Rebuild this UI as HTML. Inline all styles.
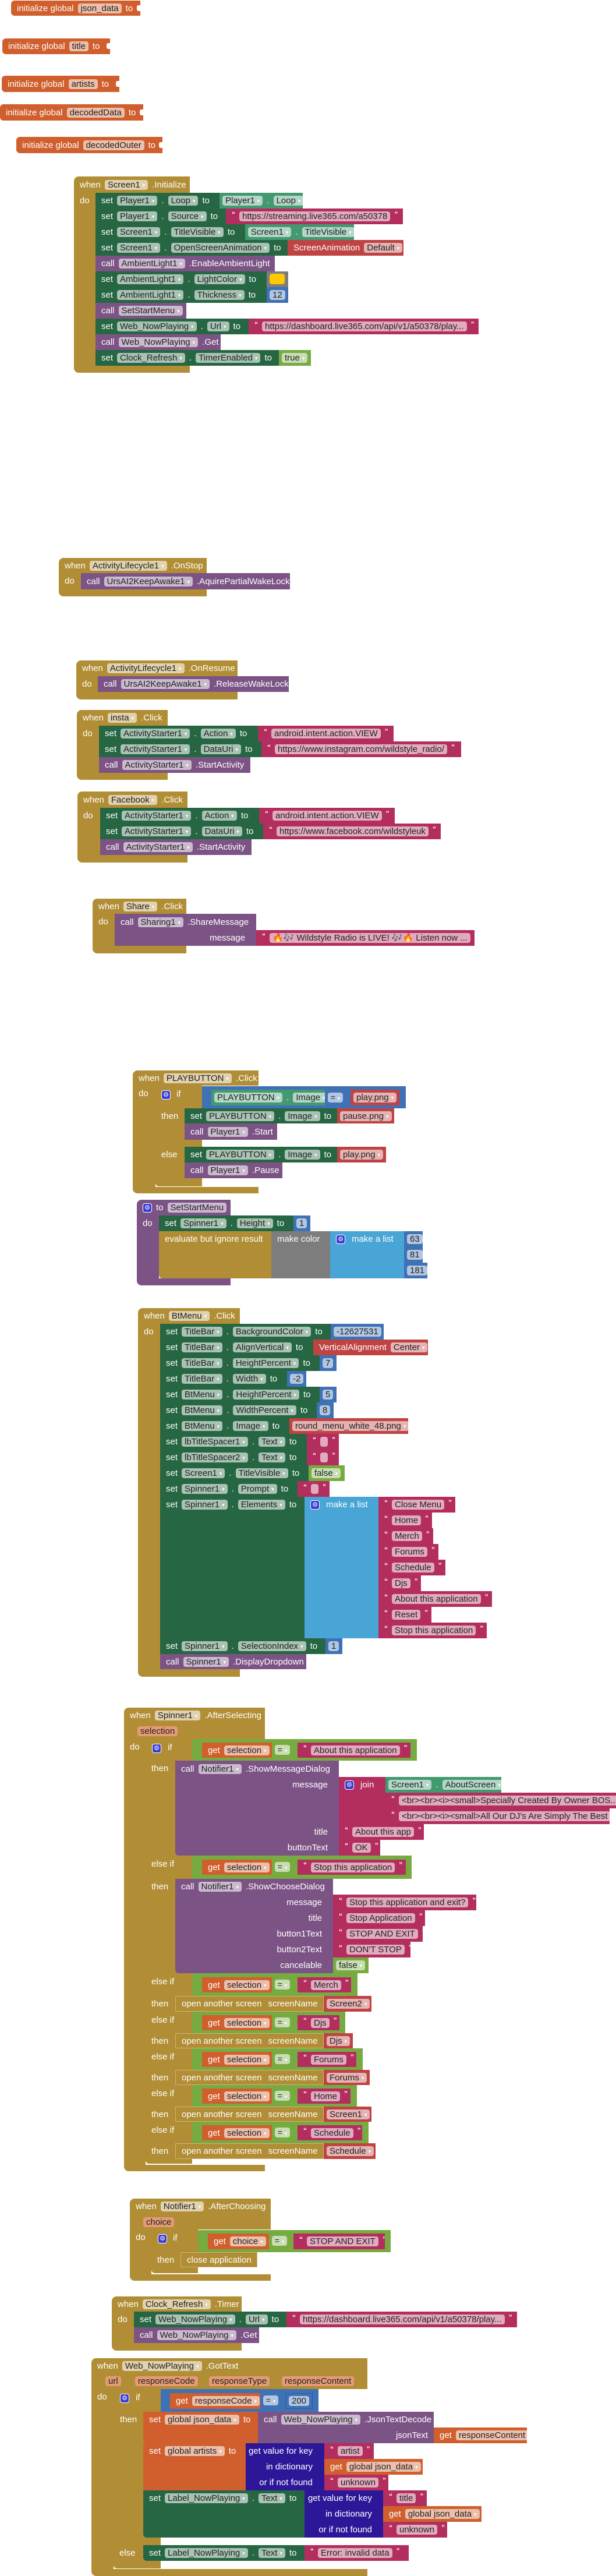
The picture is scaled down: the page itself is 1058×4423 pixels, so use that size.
<!DOCTYPE html>
<html><head><meta charset="utf-8"><style>
*{margin:0;padding:0;box-sizing:border-box}
body{width:1058px;height:4423px;position:relative;background:#fff;font-family:"Liberation Sans",Arial,sans-serif;font-size:15px;overflow:hidden}
.b{position:absolute;color:#fff;white-space:nowrap;overflow:hidden}
.r{display:flex;align-items:center;gap:7px;padding-left:10px;height:27px}
.r5{padding-left:5px}
i{font-style:normal;display:inline-block;height:17px;line-height:17px;padding:0 5px;border-radius:4px;background:rgba(255,255,255,.6);color:#222}
i.d::after{content:"\25BE";font-size:9px;color:#fff;margin-left:4px;vertical-align:1px}
.q{font-size:12px;font-weight:bold;position:relative;top:-4px}
.t{position:absolute;color:#fff;white-space:nowrap;line-height:27px}
.g{display:inline-block;width:16px;height:16px;line-height:14px;text-align:center;border-radius:4px;background:#3C3CD4;color:#fff;font-size:11px;border:1px solid #fff;font-family:"DejaVu Sans",sans-serif}
.rt{text-align:right;padding-right:19px;height:27px;line-height:27px}
.hd{border-radius:8px 0 0 0}
.bt{border-radius:0 0 0 8px}
.go{background:#B18E35}
.sg{background:#266643}
.gg{background:#439970}
.pu{background:#7C5385}
.mg{background:#B32D5E}
.rd{background:#BF4343}
.bl{background:#3F71B5}
.lb{background:#49A5D5}
.or{background:#D05F2D}
.in{background:#2D1799}
.lg{background:#77AB41}
.gy{background:#7D7D7D}
i.pp{background:#E49A74}
.eq{position:absolute;height:17px;line-height:17px;border-radius:4px;color:#222;font-size:14px;text-align:center}
.ol{border:1px solid rgba(255,255,255,.35)}
.n{position:absolute;background:#fff;width:6px;height:10px;border-radius:3px 0 0 3px}
</style></head><body>

<!-- globals -->
<div class="b or" style="left:19px;top:1px;width:222px;height:26px;border-radius:6px 0 0 6px"><div class="r" style="height:26px"><span>initialize global</span><i>json_data</i><span>to</span></div></div>
<div class="n" style="left:235px;top:9px"></div>
<div class="b or" style="left:4px;top:66px;width:185px;height:27px;border-radius:6px 0 0 6px"><div class="r"><span>initialize global</span><i>title</i><span>to</span></div></div>
<div class="n" style="left:183px;top:74px"></div>
<div class="b or" style="left:3px;top:130px;width:202px;height:28px;border-radius:6px 0 0 6px"><div class="r" style="height:28px"><span>initialize global</span><i>artists</i><span>to</span></div></div>
<div class="n" style="left:199px;top:139px"></div>
<div class="b or" style="left:0px;top:179px;width:246px;height:28px;border-radius:6px 0 0 6px"><div class="r" style="height:28px"><span>initialize global</span><i>decodedData</i><span>to</span></div></div>
<div class="n" style="left:240px;top:188px"></div>
<div class="b or" style="left:28px;top:235px;width:251px;height:28px;border-radius:6px 0 0 6px"><div class="r" style="height:28px"><span>initialize global</span><i>decodedOuter</i><span>to</span></div></div>
<div class="n" style="left:273px;top:244px"></div>

<!-- Screen1.Initialize -->
<div class="b go hd" style="left:127px;top:303px;width:199px;height:28px"><div class="r" style="height:28px"><span>when</span><i class="d">Screen1</i><span>.Initialize</span></div></div>
<div class="b go" style="left:127px;top:331px;width:37px;height:297px"><div class="r">do</div></div>
<div class="b go bt" style="left:127px;top:628px;width:199px;height:12px"></div>
<div class="b sg" style="left:164px;top:331px;width:213px;height:27px"><div class="r"><span>set</span><i class="d">Player1</i><span>.</span><i class="d">Loop</i><span>to</span></div></div>
<div class="b gg" style="left:377px;top:331px;width:143px;height:27px"><div class="r r5"><i class="d">Player1</i><span>.</span><i class="d">Loop</i></div></div>
<div class="b sg" style="left:164px;top:358px;width:224px;height:27px"><div class="r"><span>set</span><i class="d">Player1</i><span>.</span><i class="d">Source</i><span>to</span></div></div>
<div class="b mg" style="left:388px;top:358px;width:304px;height:27px"><div class="r"><span class="q">“</span><i>https://streaming.live365.com/a50378</i><span class="q">”</span></div></div>
<div class="b sg" style="left:164px;top:385px;width:257px;height:27px"><div class="r"><span>set</span><i class="d">Screen1</i><span>.</span><i class="d">TitleVisible</i><span>to</span></div></div>
<div class="b gg" style="left:421px;top:385px;width:187px;height:27px"><div class="r r5"><i class="d">Screen1</i><span>.</span><i class="d">TitleVisible</i></div></div>
<div class="b sg" style="left:164px;top:412px;width:330px;height:27px"><div class="r"><span>set</span><i class="d">Screen1</i><span>.</span><i class="d">OpenScreenAnimation</i><span>to</span></div></div>
<div class="b rd" style="left:494px;top:412px;width:199px;height:27px"><div class="r"><span>ScreenAnimation</span><i class="d">Default</i></div></div>
<div class="b pu" style="left:164px;top:439px;width:308px;height:27px"><div class="r"><span>call</span><i class="d">AmbientLight1</i><span>.EnableAmbientLight</span></div></div>
<div class="b sg" style="left:164px;top:466px;width:294px;height:27px"><div class="r"><span>set</span><i class="d">AmbientLight1</i><span>.</span><i class="d">LightColor</i><span>to</span></div></div>
<div class="b gy" style="left:458px;top:466px;width:37px;height:27px"></div>
<div class="b" style="left:463px;top:470px;width:26px;height:18px;background:#FFC800;border-radius:4px"></div>
<div class="b sg" style="left:164px;top:493px;width:294px;height:27px"><div class="r"><span>set</span><i class="d">AmbientLight1</i><span>.</span><i class="d">Thickness</i><span>to</span></div></div>
<div class="b bl" style="left:458px;top:493px;width:37px;height:27px"><div class="r r5"><i>12</i></div></div>
<div class="b pu" style="left:164px;top:520px;width:156px;height:27px"><div class="r"><span>call</span><i class="d">SetStartMenu</i></div></div>
<div class="b sg" style="left:164px;top:547px;width:263px;height:27px"><div class="r"><span>set</span><i class="d">Web_NowPlaying</i><span>.</span><i class="d">Url</i><span>to</span></div></div>
<div class="b mg" style="left:427px;top:547px;width:395px;height:27px"><div class="r"><span class="q">“</span><i>https://dashboard.live365.com/api/v1/a50378/play...</i><span class="q">”</span></div></div>
<div class="b pu" style="left:164px;top:574px;width:215px;height:27px"><div class="r"><span>call</span><i class="d">Web_NowPlaying</i><span>.Get</span></div></div>
<div class="b sg" style="left:164px;top:601px;width:315px;height:27px"><div class="r"><span>set</span><i class="d">Clock_Refresh</i><span>.</span><i class="d">TimerEnabled</i><span>to</span></div></div>
<div class="b lg" style="left:479px;top:601px;width:55px;height:27px"><div class="r r5"><i class="d">true</i></div></div>

<!-- OnStop -->
<div class="b go hd" style="left:101px;top:958px;width:254px;height:26px"><div class="r" style="height:26px"><span>when</span><i class="d">ActivityLifecycle1</i><span>.OnStop</span></div></div>
<div class="b go" style="left:101px;top:984px;width:38px;height:28px"><div class="r">do</div></div>
<div class="b go bt" style="left:101px;top:1012px;width:254px;height:12px"></div>
<div class="b pu" style="left:139px;top:984px;width:359px;height:28px"><div class="r" style="height:28px"><span>call</span><i class="d">UrsAI2KeepAwake1</i><span>.AquirePartialWakeLock</span></div></div>

<!-- OnResume -->
<div class="b go hd" style="left:131px;top:1134px;width:277px;height:27px"><div class="r"><span>when</span><i class="d">ActivityLifecycle1</i><span>.OnResume</span></div></div>
<div class="b go" style="left:131px;top:1161px;width:37px;height:27px"><div class="r">do</div></div>
<div class="b go bt" style="left:131px;top:1188px;width:277px;height:13px"></div>
<div class="b pu" style="left:168px;top:1161px;width:328px;height:27px"><div class="r"><span>call</span><i class="d">UrsAI2KeepAwake1</i><span>.ReleaseWakeLock</span></div></div>

<!-- insta -->
<div class="b go hd" style="left:132px;top:1219px;width:156px;height:27px"><div class="r"><span>when</span><i class="d">insta</i><span>.Click</span></div></div>
<div class="b go" style="left:132px;top:1246px;width:38px;height:81px"><div class="r">do</div></div>
<div class="b go bt" style="left:132px;top:1327px;width:156px;height:12px"></div>
<div class="b sg" style="left:170px;top:1246px;width:273px;height:27px"><div class="r"><span>set</span><i class="d">ActivityStarter1</i><span>.</span><i class="d">Action</i><span>to</span></div></div>
<div class="b mg" style="left:443px;top:1246px;width:233px;height:27px"><div class="r"><span class="q">“</span><i>android.intent.action.VIEW</i><span class="q">”</span></div></div>
<div class="b sg" style="left:170px;top:1273px;width:279px;height:27px"><div class="r"><span>set</span><i class="d">ActivityStarter1</i><span>.</span><i class="d">DataUri</i><span>to</span></div></div>
<div class="b mg" style="left:449px;top:1273px;width:343px;height:27px"><div class="r"><span class="q">“</span><i>https://www.instagram.com/wildstyle_radio/</i><span class="q">”</span></div></div>
<div class="b pu" style="left:170px;top:1300px;width:260px;height:27px"><div class="r"><span>call</span><i class="d">ActivityStarter1</i><span>.StartActivity</span></div></div>

<!-- Facebook -->
<div class="b go hd" style="left:133px;top:1359px;width:189px;height:28px"><div class="r" style="height:28px"><span>when</span><i class="d">Facebook</i><span>.Click</span></div></div>
<div class="b go" style="left:133px;top:1387px;width:39px;height:81px"><div class="r">do</div></div>
<div class="b go bt" style="left:133px;top:1468px;width:189px;height:13px"></div>
<div class="b sg" style="left:172px;top:1387px;width:273px;height:27px"><div class="r"><span>set</span><i class="d">ActivityStarter1</i><span>.</span><i class="d">Action</i><span>to</span></div></div>
<div class="b mg" style="left:445px;top:1387px;width:233px;height:27px"><div class="r"><span class="q">“</span><i>android.intent.action.VIEW</i><span class="q">”</span></div></div>
<div class="b sg" style="left:172px;top:1414px;width:280px;height:27px"><div class="r"><span>set</span><i class="d">ActivityStarter1</i><span>.</span><i class="d">DataUri</i><span>to</span></div></div>
<div class="b mg" style="left:452px;top:1414px;width:305px;height:27px"><div class="r"><span class="q">“</span><i>https://www.facebook.com/wildstyleuk</i><span class="q">”</span></div></div>
<div class="b pu" style="left:172px;top:1441px;width:260px;height:27px"><div class="r"><span>call</span><i class="d">ActivityStarter1</i><span>.StartActivity</span></div></div>

<!-- Share -->
<div class="b go hd" style="left:159px;top:1543px;width:161px;height:26px"><div class="r" style="height:26px"><span>when</span><i class="d">Share</i><span>.Click</span></div></div>
<div class="b go" style="left:159px;top:1569px;width:38px;height:55px"><div class="r">do</div></div>
<div class="b go bt" style="left:159px;top:1624px;width:161px;height:13px"></div>
<div class="b pu" style="left:197px;top:1569px;width:243px;height:55px"><div class="r" style="height:28px"><span>call</span><i class="d">Sharing1</i><span>.ShareMessage</span></div><div class="rt">message</div></div>
<div class="b mg" style="left:440px;top:1597px;width:375px;height:27px"><div class="r"><span class="q">“</span><i>🔥🎶 Wildstyle Radio is LIVE! 🎶🔥 Listen now ...</i><span class="q">”</span></div></div>

<!-- PLAYBUTTON.Click -->
<div class="b go hd" style="left:228px;top:1838px;width:216px;height:26px"><div class="r" style="height:26px"><span>when</span><i class="d">PLAYBUTTON</i><span>.Click</span></div></div>
<div class="b go" style="left:228px;top:1864px;width:39px;height:174px"><div class="r">do</div></div>
<div class="b go bt" style="left:228px;top:2038px;width:216px;height:11px"></div>
<div class="b go" style="left:267px;top:1864px;width:80px;height:173px;border-radius:0 0 0 6px"></div>
<div class="t" style="left:277px;top:1864px;line-height:30px"><span class="g">⚙</span></div>
<div class="t" style="left:303px;top:1864px;line-height:30px">if</div>
<div class="t" style="left:277px;top:1903px">then</div>
<div class="t" style="left:277px;top:1969px">else</div>
<div class="b bl" style="left:347px;top:1865px;width:350px;height:38px"></div>
<div class="b gg" style="left:363px;top:1871px;width:195px;height:27px"><div class="r r5"><i class="d">PLAYBUTTON</i><span>.</span><i class="d">Image</i></div></div>
<div class="eq" style="left:563px;top:1876px;width:26px;background:#B2C6E1">= <span style="color:#fff;font-size:9px">▾</span></div>
<div class="b rd" style="left:602px;top:1871px;width:84px;height:27px"><div class="r r5"><i class="d">play.png</i></div></div>
<div class="b sg" style="left:317px;top:1903px;width:262px;height:26px"><div class="r" style="height:26px"><span>set</span><i class="d">PLAYBUTTON</i><span>.</span><i class="d">Image</i><span>to</span></div></div>
<div class="b rd" style="left:579px;top:1903px;width:98px;height:26px"><div class="r r5" style="height:26px"><i class="d">pause.png</i></div></div>
<div class="b pu" style="left:317px;top:1929px;width:159px;height:28px"><div class="r" style="height:28px"><span>call</span><i class="d">Player1</i><span>.Start</span></div></div>
<div class="b sg" style="left:317px;top:1969px;width:262px;height:27px"><div class="r"><span>set</span><i class="d">PLAYBUTTON</i><span>.</span><i class="d">Image</i><span>to</span></div></div>
<div class="b rd" style="left:579px;top:1969px;width:84px;height:27px"><div class="r r5"><i class="d">play.png</i></div></div>
<div class="b pu" style="left:317px;top:1996px;width:168px;height:27px"><div class="r"><span>call</span><i class="d">Player1</i><span>.Pause</span></div></div>

<!-- SetStartMenu -->
<div class="b pu hd" style="left:235px;top:2060px;width:161px;height:27px"><div class="r"><span class="g">⚙</span><span>to</span><i style="background:#CDB8D3">SetStartMenu</i></div></div>
<div class="b pu" style="left:235px;top:2087px;width:38px;height:108px"><div class="r">do</div></div>
<div class="b pu bt" style="left:235px;top:2195px;width:161px;height:12px"></div>
<div class="b sg" style="left:273px;top:2087px;width:231px;height:27px"><div class="r"><span>set</span><i class="d">Spinner1</i><span>.</span><i class="d">Height</i><span>to</span></div></div>
<div class="b bl" style="left:504px;top:2087px;width:29px;height:27px"><div class="r r5"><i>1</i></div></div>
<div class="b go" style="left:273px;top:2114px;width:193px;height:81px;border-radius:0 0 0 6px"><div class="r">evaluate but ignore result</div></div>
<div class="b gy" style="left:466px;top:2114px;width:101px;height:81px"><div class="r">make color</div></div>
<div class="b lb" style="left:567px;top:2114px;width:127px;height:81px"><div class="r"><span class="g">⚙</span><span style="margin-left:4px">make a list</span></div></div>
<div class="b bl" style="left:694px;top:2114px;width:32px;height:27px"><div class="r r5"><i>63</i></div></div>
<div class="b bl" style="left:694px;top:2141px;width:32px;height:27px"><div class="r r5"><i>81</i></div></div>
<div class="b bl" style="left:694px;top:2168px;width:40px;height:27px"><div class="r r5"><i>181</i></div></div>

<!-- BtMenu.Click -->
<div class="b go hd" style="left:237px;top:2246px;width:175px;height:27px"><div class="r"><span>when</span><i class="d">BtMenu</i><span>.Click</span></div></div>
<div class="b go" style="left:237px;top:2273px;width:38px;height:593px"><div class="r">do</div></div>
<div class="b go bt" style="left:237px;top:2866px;width:175px;height:13px"></div>
<div class="b sg" style="left:275px;top:2273px;width:293px;height:27px"><div class="r"><span>set</span><i class="d">TitleBar</i><span>.</span><i class="d">BackgroundColor</i><span>to</span></div></div>
<div class="b bl" style="left:568px;top:2273px;width:91px;height:27px"><div class="r r5"><i>-12627531</i></div></div>
<div class="b sg" style="left:275px;top:2300px;width:263px;height:27px"><div class="r"><span>set</span><i class="d">TitleBar</i><span>.</span><i class="d">AlignVertical</i><span>to</span></div></div>
<div class="b rd" style="left:538px;top:2300px;width:197px;height:27px"><div class="r"><span>VerticalAlignment</span><i class="d">Center</i></div></div>
<div class="b sg" style="left:275px;top:2327px;width:274px;height:27px"><div class="r"><span>set</span><i class="d">TitleBar</i><span>.</span><i class="d">HeightPercent</i><span>to</span></div></div>
<div class="b bl" style="left:549px;top:2327px;width:29px;height:27px"><div class="r r5"><i>7</i></div></div>
<div class="b sg" style="left:275px;top:2354px;width:218px;height:27px"><div class="r"><span>set</span><i class="d">TitleBar</i><span>.</span><i class="d">Width</i><span>to</span></div></div>
<div class="b bl" style="left:493px;top:2354px;width:33px;height:27px"><div class="r r5"><i>-2</i></div></div>
<div class="b sg" style="left:275px;top:2381px;width:274px;height:27px"><div class="r"><span>set</span><i class="d">BtMenu</i><span>.</span><i class="d">HeightPercent</i><span>to</span></div></div>
<div class="b bl" style="left:549px;top:2381px;width:29px;height:27px"><div class="r r5"><i>5</i></div></div>
<div class="b sg" style="left:275px;top:2408px;width:269px;height:27px"><div class="r"><span>set</span><i class="d">BtMenu</i><span>.</span><i class="d">WidthPercent</i><span>to</span></div></div>
<div class="b bl" style="left:544px;top:2408px;width:29px;height:27px"><div class="r r5"><i>8</i></div></div>
<div class="b sg" style="left:275px;top:2435px;width:222px;height:27px"><div class="r"><span>set</span><i class="d">BtMenu</i><span>.</span><i class="d">Image</i><span>to</span></div></div>
<div class="b rd" style="left:497px;top:2435px;width:204px;height:27px"><div class="r r5"><i class="d">round_menu_white_48.png</i></div></div>
<div class="b sg" style="left:275px;top:2462px;width:252px;height:27px"><div class="r"><span>set</span><i class="d">lbTitleSpacer1</i><span>.</span><i class="d">Text</i><span>to</span></div></div>
<div class="b mg" style="left:527px;top:2462px;width:55px;height:27px"><div class="r"><span class="q">“</span><i style="width:13px;padding:0"></i><span class="q">”</span></div></div>
<div class="b sg" style="left:275px;top:2489px;width:252px;height:27px"><div class="r"><span>set</span><i class="d">lbTitleSpacer2</i><span>.</span><i class="d">Text</i><span>to</span></div></div>
<div class="b mg" style="left:527px;top:2489px;width:55px;height:27px"><div class="r"><span class="q">“</span><i style="width:13px;padding:0"></i><span class="q">”</span></div></div>
<div class="b sg" style="left:275px;top:2516px;width:255px;height:27px"><div class="r"><span>set</span><i class="d">Screen1</i><span>.</span><i class="d">TitleVisible</i><span>to</span></div></div>
<div class="b lg" style="left:530px;top:2516px;width:62px;height:27px"><div class="r r5"><i class="d">false</i></div></div>
<div class="b sg" style="left:275px;top:2543px;width:236px;height:27px"><div class="r"><span>set</span><i class="d">Spinner1</i><span>.</span><i class="d">Prompt</i><span>to</span></div></div>
<div class="b mg" style="left:511px;top:2543px;width:55px;height:27px"><div class="r"><span class="q">“</span><i style="width:13px;padding:0"></i><span class="q">”</span></div></div>
<div class="b sg" style="left:275px;top:2570px;width:248px;height:243px"><div class="r"><span>set</span><i class="d">Spinner1</i><span>.</span><i class="d">Elements</i><span>to</span></div></div>
<div class="b lb" style="left:523px;top:2570px;width:127px;height:243px"><div class="r"><span class="g">⚙</span><span style="margin-left:4px">make a list</span></div></div>
<div class="b mg" style="left:650px;top:2570px;width:132px;height:27px"><div class="r"><span class="q">“</span><i>Close Menu</i><span class="q">”</span></div></div>
<div class="b mg" style="left:650px;top:2597px;width:92px;height:27px"><div class="r"><span class="q">“</span><i>Home</i><span class="q">”</span></div></div>
<div class="b mg" style="left:650px;top:2624px;width:94px;height:27px"><div class="r"><span class="q">“</span><i>Merch</i><span class="q">”</span></div></div>
<div class="b mg" style="left:650px;top:2651px;width:103px;height:27px"><div class="r"><span class="q">“</span><i>Forums</i><span class="q">”</span></div></div>
<div class="b mg" style="left:650px;top:2678px;width:115px;height:27px"><div class="r"><span class="q">“</span><i>Schedule</i><span class="q">”</span></div></div>
<div class="b mg" style="left:650px;top:2705px;width:73px;height:27px"><div class="r"><span class="q">“</span><i>Djs</i><span class="q">”</span></div></div>
<div class="b mg" style="left:650px;top:2732px;width:195px;height:27px"><div class="r"><span class="q">“</span><i>About this application</i><span class="q">”</span></div></div>
<div class="b mg" style="left:650px;top:2759px;width:91px;height:27px"><div class="r"><span class="q">“</span><i>Reset</i><span class="q">”</span></div></div>
<div class="b mg" style="left:650px;top:2786px;width:186px;height:27px"><div class="r"><span class="q">“</span><i>Stop this application</i><span class="q">”</span></div></div>
<div class="b sg" style="left:275px;top:2813px;width:284px;height:27px"><div class="r"><span>set</span><i class="d">Spinner1</i><span>.</span><i class="d">SelectionIndex</i><span>to</span></div></div>
<div class="b bl" style="left:559px;top:2813px;width:29px;height:27px"><div class="r r5"><i>1</i></div></div>
<div class="b pu" style="left:275px;top:2840px;width:251px;height:26px"><div class="r" style="height:26px"><span>call</span><i class="d">Spinner1</i><span>.DisplayDropdown</span></div></div>

<!-- Spinner1.AfterSelecting -->
<div class="b go hd" style="left:213px;top:2932px;width:242px;height:54px"><div class="r"><span>when</span><i class="d">Spinner1</i><span>.AfterSelecting</span></div><div class="r" style="padding-left:23px"><i class="pp">selection</i></div></div>
<div class="b go" style="left:213px;top:2986px;width:37px;height:731px"><div class="r">do</div></div>
<div class="b go bt" style="left:213px;top:3717px;width:242px;height:11px"></div>
<div class="b go" style="left:250px;top:2986px;width:80px;height:729px;border-radius:0 0 0 6px"></div>
<div class="t" style="left:261px;top:2986px;line-height:30px"><span class="g">⚙</span></div>
<div class="t" style="left:288px;top:2986px;line-height:30px">if</div>
<div class="t" style="left:260px;top:3023px">then</div>
<div class="t" style="left:260px;top:3186px;line-height:30px">else if</div>
<div class="t" style="left:260px;top:3226px">then</div>
<div class="t" style="left:260px;top:3388px;line-height:30px">else if</div>
<div class="t" style="left:260px;top:3427px">then</div>
<div class="t" style="left:260px;top:3454px;line-height:30px">else if</div>
<div class="t" style="left:260px;top:3491px">then</div>
<div class="t" style="left:260px;top:3517px;line-height:30px">else if</div>
<div class="t" style="left:260px;top:3554px">then</div>
<div class="t" style="left:260px;top:3580px;line-height:30px">else if</div>
<div class="t" style="left:260px;top:3617px">then</div>
<div class="t" style="left:260px;top:3643px;line-height:30px">else if</div>
<div class="t" style="left:260px;top:3680px">then</div>

<!-- cond 1 -->
<div class="b lg" style="left:330px;top:2986px;width:386px;height:37px"></div>
<div class="b or" style="left:347px;top:2992px;width:120px;height:26px"><div class="r" style="height:26px"><span>get</span><i class="d">selection</i></div></div>
<div class="eq" style="left:472px;top:2996px;width:26px;background:#C9DDB3">= <span style="color:#fff;font-size:9px">▾</span></div>
<div class="b mg" style="left:511px;top:2992px;width:194px;height:26px"><div class="r" style="height:26px"><span class="q">“</span><i>About this application</i><span class="q">”</span></div></div>
<div class="b pu" style="left:301px;top:3023px;width:281px;height:163px;border-radius:0 0 0 6px"><div class="r" style="height:28px"><span>call</span><i class="d">Notifier1</i><span>.ShowMessageDialog</span></div><div class="rt">message</div><div class="rt"></div><div class="rt"></div><div class="rt">title</div><div class="rt">buttonText</div></div>
<div class="b mg" style="left:582px;top:3051px;width:80px;height:81px"><div class="r"><span class="g">⚙</span><span style="margin-left:4px">join</span></div></div>
<div class="b gg" style="left:662px;top:3051px;width:199px;height:27px"><div class="r r5"><i class="d">Screen1</i><span>.</span><i class="d">AboutScreen</i></div></div>
<div class="b mg" style="left:662px;top:3078px;width:396px;height:27px"><div class="r"><span class="q">“</span><i>&lt;br&gt;&lt;br&gt;&lt;i&gt;&lt;small&gt;Specially Created By Owner BOS...</i><span class="q">”</span></div></div>
<div class="b mg" style="left:662px;top:3105px;width:385px;height:27px"><div class="r"><span class="q">“</span><i>&lt;br&gt;&lt;br&gt;&lt;i&gt;&lt;small&gt;All Our DJ's Are Simply The Best</i><span class="q">”</span></div></div>
<div class="b mg" style="left:582px;top:3132px;width:146px;height:27px"><div class="r"><span class="q">“</span><i>About this app</i><span class="q">”</span></div></div>
<div class="b mg" style="left:582px;top:3159px;width:71px;height:27px"><div class="r"><span class="q">“</span><i>OK</i><span class="q">”</span></div></div>

<!-- cond 2 -->
<div class="b lg" style="left:330px;top:3186px;width:377px;height:40px"></div>
<div class="b or" style="left:347px;top:3193px;width:120px;height:26px"><div class="r" style="height:26px"><span>get</span><i class="d">selection</i></div></div>
<div class="eq" style="left:472px;top:3197px;width:26px;background:#C9DDB3">= <span style="color:#fff;font-size:9px">▾</span></div>
<div class="b mg" style="left:511px;top:3193px;width:186px;height:26px"><div class="r" style="height:26px"><span class="q">“</span><i>Stop this application</i><span class="q">”</span></div></div>
<div class="b pu" style="left:301px;top:3226px;width:271px;height:162px;border-radius:0 0 0 6px"><div class="r"><span>call</span><i class="d">Notifier1</i><span>.ShowChooseDialog</span></div><div class="rt">message</div><div class="rt">title</div><div class="rt">button1Text</div><div class="rt">button2Text</div><div class="rt">cancelable</div></div>
<div class="b mg" style="left:572px;top:3253px;width:246px;height:27px"><div class="r"><span class="q">“</span><i>Stop this application and exit?</i><span class="q">”</span></div></div>
<div class="b mg" style="left:572px;top:3280px;width:158px;height:27px"><div class="r"><span class="q">“</span><i>Stop Application</i><span class="q">”</span></div></div>
<div class="b mg" style="left:572px;top:3307px;width:154px;height:27px"><div class="r"><span class="q">“</span><i>STOP AND EXIT</i><span class="q">”</span></div></div>
<div class="b mg" style="left:572px;top:3334px;width:133px;height:27px"><div class="r"><span class="q">“</span><i>DON'T STOP</i><span class="q">”</span></div></div>
<div class="b lg" style="left:572px;top:3361px;width:61px;height:27px"><div class="r r5"><i class="d">false</i></div></div>

<!-- cond 3 Merch -->
<div class="b lg" style="left:330px;top:3388px;width:284px;height:39px"></div>
<div class="b or" style="left:347px;top:3395px;width:120px;height:26px"><div class="r" style="height:26px"><span>get</span><i class="d">selection</i></div></div>
<div class="eq" style="left:472px;top:3399px;width:26px;background:#C9DDB3">= <span style="color:#fff;font-size:9px">▾</span></div>
<div class="b mg" style="left:511px;top:3395px;width:92px;height:26px"><div class="r" style="height:26px"><span class="q">“</span><i>Merch</i><span class="q">”</span></div></div>
<div class="b go ol" style="left:301px;top:3427px;width:255px;height:27px"><div class="r" style="height:25px"><span>open another screen</span><span style="margin-left:4px">screenName</span></div></div>
<div class="b rd" style="left:556px;top:3427px;width:82px;height:27px"><div class="r r5"><i class="d">Screen2</i></div></div>

<!-- cond 4 Djs -->
<div class="b lg" style="left:330px;top:3454px;width:263px;height:37px"></div>
<div class="b or" style="left:347px;top:3460px;width:120px;height:26px"><div class="r" style="height:26px"><span>get</span><i class="d">selection</i></div></div>
<div class="eq" style="left:472px;top:3464px;width:26px;background:#C9DDB3">= <span style="color:#fff;font-size:9px">▾</span></div>
<div class="b mg" style="left:511px;top:3460px;width:72px;height:26px"><div class="r" style="height:26px"><span class="q">“</span><i>Djs</i><span class="q">”</span></div></div>
<div class="b go ol" style="left:301px;top:3491px;width:255px;height:26px"><div class="r" style="height:24px"><span>open another screen</span><span style="margin-left:4px">screenName</span></div></div>
<div class="b rd" style="left:556px;top:3491px;width:50px;height:26px"><div class="r r5" style="height:26px"><i class="d">Djs</i></div></div>

<!-- cond 5 Forums -->
<div class="b lg" style="left:330px;top:3517px;width:293px;height:37px"></div>
<div class="b or" style="left:347px;top:3523px;width:120px;height:26px"><div class="r" style="height:26px"><span>get</span><i class="d">selection</i></div></div>
<div class="eq" style="left:472px;top:3527px;width:26px;background:#C9DDB3">= <span style="color:#fff;font-size:9px">▾</span></div>
<div class="b mg" style="left:511px;top:3523px;width:101px;height:26px"><div class="r" style="height:26px"><span class="q">“</span><i>Forums</i><span class="q">”</span></div></div>
<div class="b go ol" style="left:301px;top:3554px;width:255px;height:26px"><div class="r" style="height:24px"><span>open another screen</span><span style="margin-left:4px">screenName</span></div></div>
<div class="b rd" style="left:556px;top:3554px;width:79px;height:26px"><div class="r r5" style="height:26px"><i class="d">Forums</i></div></div>

<!-- cond 6 Home -->
<div class="b lg" style="left:330px;top:3580px;width:283px;height:37px"></div>
<div class="b or" style="left:347px;top:3586px;width:120px;height:26px"><div class="r" style="height:26px"><span>get</span><i class="d">selection</i></div></div>
<div class="eq" style="left:472px;top:3590px;width:26px;background:#C9DDB3">= <span style="color:#fff;font-size:9px">▾</span></div>
<div class="b mg" style="left:511px;top:3586px;width:91px;height:26px"><div class="r" style="height:26px"><span class="q">“</span><i>Home</i><span class="q">”</span></div></div>
<div class="b go ol" style="left:301px;top:3617px;width:255px;height:26px"><div class="r" style="height:24px"><span>open another screen</span><span style="margin-left:4px">screenName</span></div></div>
<div class="b rd" style="left:556px;top:3617px;width:82px;height:26px"><div class="r r5" style="height:26px"><i class="d">Screen1</i></div></div>

<!-- cond 7 Schedule -->
<div class="b lg" style="left:330px;top:3643px;width:303px;height:37px"></div>
<div class="b or" style="left:347px;top:3649px;width:120px;height:26px"><div class="r" style="height:26px"><span>get</span><i class="d">selection</i></div></div>
<div class="eq" style="left:472px;top:3653px;width:26px;background:#C9DDB3">= <span style="color:#fff;font-size:9px">▾</span></div>
<div class="b mg" style="left:511px;top:3649px;width:111px;height:26px"><div class="r" style="height:26px"><span class="q">“</span><i>Schedule</i><span class="q">”</span></div></div>
<div class="b go ol" style="left:301px;top:3680px;width:255px;height:27px"><div class="r" style="height:25px"><span>open another screen</span><span style="margin-left:4px">screenName</span></div></div>
<div class="b rd" style="left:556px;top:3680px;width:89px;height:27px"><div class="r r5"><i class="d">Schedule</i></div></div>

<!-- Notifier1.AfterChoosing -->
<div class="b go hd" style="left:223px;top:3775px;width:242px;height:53px"><div class="r"><span>when</span><i class="d">Notifier1</i><span>.AfterChoosing</span></div><div class="r" style="padding-left:23px;height:26px"><i class="pp">choice</i></div></div>
<div class="b go" style="left:223px;top:3828px;width:37px;height:77px"><div class="r">do</div></div>
<div class="b go bt" style="left:223px;top:3905px;width:242px;height:11px"></div>
<div class="b go" style="left:260px;top:3828px;width:80px;height:75px;border-radius:0 0 0 6px"></div>
<div class="t" style="left:271px;top:3828px;line-height:30px"><span class="g">⚙</span></div>
<div class="t" style="left:297px;top:3828px;line-height:30px">if</div>
<div class="t" style="left:270px;top:3867px">then</div>
<div class="b lg" style="left:340px;top:3829px;width:331px;height:38px"></div>
<div class="b or" style="left:357px;top:3835px;width:105px;height:27px"><div class="r"><span>get</span><i class="d">choice</i></div></div>
<div class="eq" style="left:467px;top:3839px;width:26px;background:#C9DDB3">= <span style="color:#fff;font-size:9px">▾</span></div>
<div class="b mg" style="left:504px;top:3835px;width:157px;height:27px"><div class="r"><span class="q">“</span><i>STOP AND EXIT</i><span class="q">”</span></div></div>
<div class="b go ol" style="left:310px;top:3867px;width:132px;height:26px"><div class="r" style="height:24px">close application</div></div>

<!-- Clock_Refresh.Timer -->
<div class="b go hd" style="left:192px;top:3943px;width:223px;height:26px"><div class="r" style="height:26px"><span>when</span><i class="d">Clock_Refresh</i><span>.Timer</span></div></div>
<div class="b go" style="left:192px;top:3969px;width:38px;height:54px"><div class="r">do</div></div>
<div class="b go bt" style="left:192px;top:4023px;width:223px;height:13px"></div>
<div class="b sg" style="left:230px;top:3969px;width:262px;height:27px"><div class="r"><span>set</span><i class="d">Web_NowPlaying</i><span>.</span><i class="d">Url</i><span>to</span></div></div>
<div class="b mg" style="left:492px;top:3969px;width:396px;height:27px"><div class="r"><span class="q">“</span><i>https://dashboard.live365.com/api/v1/a50378/play...</i><span class="q">”</span></div></div>
<div class="b pu" style="left:230px;top:3996px;width:215px;height:27px"><div class="r"><span>call</span><i class="d">Web_NowPlaying</i><span>.Get</span></div></div>

<!-- Web_NowPlaying.GotText -->
<div class="b go hd" style="left:157px;top:4049px;width:474px;height:53px"><div class="r"><span>when</span><i class="d">Web_NowPlaying</i><span>.GotText</span></div></div>
<i class="pp" style="position:absolute;left:181px;top:4080px">url</i>
<i class="pp" style="position:absolute;left:232px;top:4080px">responseCode</i>
<i class="pp" style="position:absolute;left:359px;top:4080px">responseType</i>
<i class="pp" style="position:absolute;left:484px;top:4080px">responseContent</i>
<div class="b go" style="left:157px;top:4102px;width:38px;height:309px"><div class="r">do</div></div>
<div class="b go bt" style="left:157px;top:4411px;width:474px;height:12px"></div>
<div class="b go" style="left:195px;top:4102px;width:81px;height:308px;border-radius:0 0 0 6px"></div>
<div class="t" style="left:206px;top:4102px;line-height:30px"><span class="g">⚙</span></div>
<div class="t" style="left:233px;top:4102px;line-height:30px">if</div>
<div class="t" style="left:206px;top:4141px">then</div>
<div class="t" style="left:205px;top:4370px">else</div>
<div class="b bl" style="left:276px;top:4102px;width:271px;height:39px"></div>
<div class="b or" style="left:292px;top:4109px;width:155px;height:27px"><div class="r"><span>get</span><i class="d">responseCode</i></div></div>
<div class="eq" style="left:452px;top:4113px;width:26px;background:#B2C6E1">= <span style="color:#fff;font-size:9px">▾</span></div>
<div class="b bl" style="left:490px;top:4109px;width:47px;height:27px;border:1px solid #2F5A96"><div class="r r5" style="height:25px"><i>200</i></div></div>

<div class="b or" style="left:246px;top:4141px;width:197px;height:54px;border-radius:0 0 0 6px"><div class="r"><span>set</span><i class="d">global json_data</i><span>to</span></div></div>
<div class="b pu" style="left:443px;top:4141px;width:302px;height:54px"><div class="r"><span>call</span><i class="d">Web_NowPlaying</i><span>.JsonTextDecode</span></div><div class="rt" style="padding-right:10px">jsonText</div></div>
<div class="b or" style="left:745px;top:4168px;width:160px;height:27px"><div class="r"><span>get</span><i class="d">responseContent</i></div></div>

<div class="b or" style="left:246px;top:4195px;width:176px;height:81px"><div class="r"><span>set</span><i class="d">global artists</i><span>to</span></div></div>
<div class="b in" style="left:422px;top:4195px;width:135px;height:81px"><div class="rt" style="padding-right:20px">get value for key</div><div class="rt" style="padding-right:20px">in dictionary</div><div class="rt" style="padding-right:20px">or if not found</div></div>
<div class="b mg" style="left:557px;top:4195px;width:85px;height:27px"><div class="r"><span class="q">“</span><i>artist</i><span class="q">”</span></div></div>
<div class="b or" style="left:557px;top:4222px;width:169px;height:27px"><div class="r"><span>get</span><i class="d">global json_data</i></div></div>
<div class="b mg" style="left:557px;top:4249px;width:110px;height:27px"><div class="r"><span class="q">“</span><i>unknown</i><span class="q">”</span></div></div>

<div class="b sg" style="left:246px;top:4276px;width:277px;height:81px;border-radius:0 0 0 6px"><div class="r"><span>set</span><i class="d">Label_NowPlaying</i><span>.</span><i class="d">Text</i><span>to</span></div></div>
<div class="b in" style="left:523px;top:4276px;width:135px;height:81px"><div class="rt">get value for key</div><div class="rt">in dictionary</div><div class="rt">or if not found</div></div>
<div class="b mg" style="left:658px;top:4276px;width:75px;height:27px"><div class="r"><span class="q">“</span><i>title</i><span class="q">”</span></div></div>
<div class="b or" style="left:658px;top:4303px;width:169px;height:27px"><div class="r"><span>get</span><i class="d">global json_data</i></div></div>
<div class="b mg" style="left:658px;top:4330px;width:110px;height:27px"><div class="r"><span class="q">“</span><i>unknown</i><span class="q">”</span></div></div>

<div class="b sg" style="left:246px;top:4370px;width:277px;height:27px;border-radius:0 0 0 6px"><div class="r"><span>set</span><i class="d">Label_NowPlaying</i><span>.</span><i class="d">Text</i><span>to</span></div></div>
<div class="b mg" style="left:523px;top:4370px;width:179px;height:27px"><div class="r"><span class="q">“</span><i>Error:  invalid data</i><span class="q">”</span></div></div>

</body></html>
